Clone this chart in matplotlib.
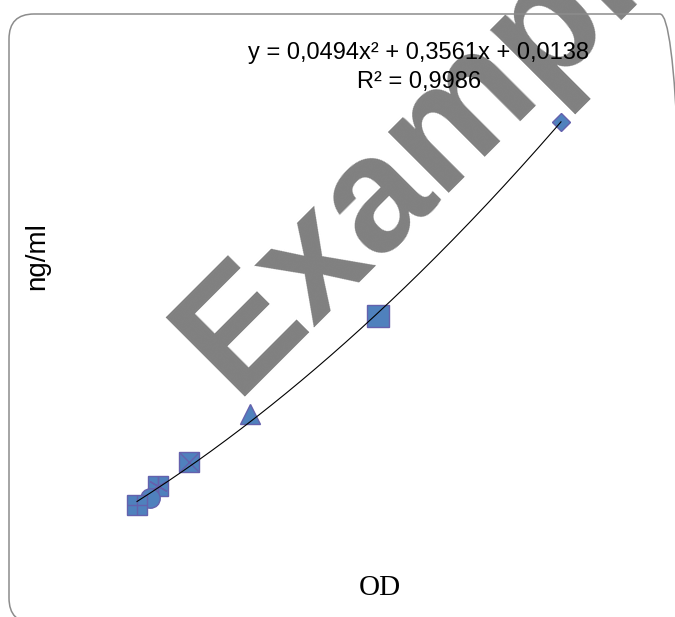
import numpy as np
import matplotlib.pyplot as plt
from matplotlib.patches import FancyBboxPatch

# Данные стандартной кривой (OD -> ng/ml)
od = [0.0, 0.091, 0.147, 0.363, 0.789, 1.683, 2.96]
conc = [0.0, 0.027, 0.074, 0.168, 0.357, 0.740, 1.50]
# маркеры по порядку точек (как в Excel)
markers = ['s', 'o', 's', 's', '^', 's', 'D']
overlay = ['+', None, (6, 2, 0), 'x', None, None, None]
msizes = [14, 14, 14, 14, 15, 16, 9]

# коэффициенты полиномиального тренда
coef = [0.0494, 0.3561, 0.0138]
eq_text = 'y = 0,0494x² + 0,3561x + 0,0138'
r2_text = 'R² = 0,9986'

fill = '#4F81BD'
edge = '#6561AD'

fig = plt.figure(figsize=(6.75, 6.17), dpi=100)
ax = fig.add_axes([0, 0, 1, 1])
ax.axis('off')
ax.set_xlim(-0.9565, 3.756)
ax.set_ylim(-0.4386, 1.978)

# рамка со скругленными углами
box = FancyBboxPatch((0.09, -0.06), 6.76, 6.09,
                     boxstyle='round,pad=0,rounding_size=0.25',
                     transform=fig.dpi_scale_trans, fill=False,
                     edgecolor='#8c8c8c', linewidth=1.1, zorder=2)
fig.patches.append(box)

# водяной знак (под точками)
ax.text(0.3474, 0.3574, 'Example', rotation=45, rotation_mode='anchor',
        ha='left', va='baseline', fontsize=117, fontweight='bold',
        color='#808080', family='Liberation Sans', zorder=1,
        transform=fig.transFigure)

# точки
order = [2, 1, 0, 3, 4, 5, 6]
for i in order:
    ax.plot(od[i], conc[i], marker=markers[i], ms=msizes[i],
            mfc=fill, mec=edge, mew=1.0, ls='none', zorder=3)
    if overlay[i] is not None:
        ax.plot(od[i], conc[i], marker=overlay[i], ms=msizes[i],
                mec=edge, mew=1.0, ls='none', zorder=3)

# линия тренда
xx = np.linspace(min(od), max(od), 200)
yy = coef[0] * xx**2 + coef[1] * xx + coef[2]
ax.plot(xx, yy, color='black', lw=0.8, zorder=4)

fig.text(419 / 675, 1 - 53 / 617, eq_text, ha='center', va='center',
         fontsize=17, family='Liberation Sans', zorder=5)
fig.text(419 / 675, 1 - 82 / 617, r2_text, ha='center', va='center',
         fontsize=17, family='Liberation Sans', zorder=5)

fig.text(37 / 675, 1 - 256 / 617, 'ng/ml', rotation=90, ha='center',
         va='center', fontsize=20, family='Liberation Sans')
fig.text(380 / 675, 1 - 588 / 617, 'OD', ha='center', va='center',
         fontsize=21, family='Liberation Serif')

fig.savefig('out.png', dpi=100)
